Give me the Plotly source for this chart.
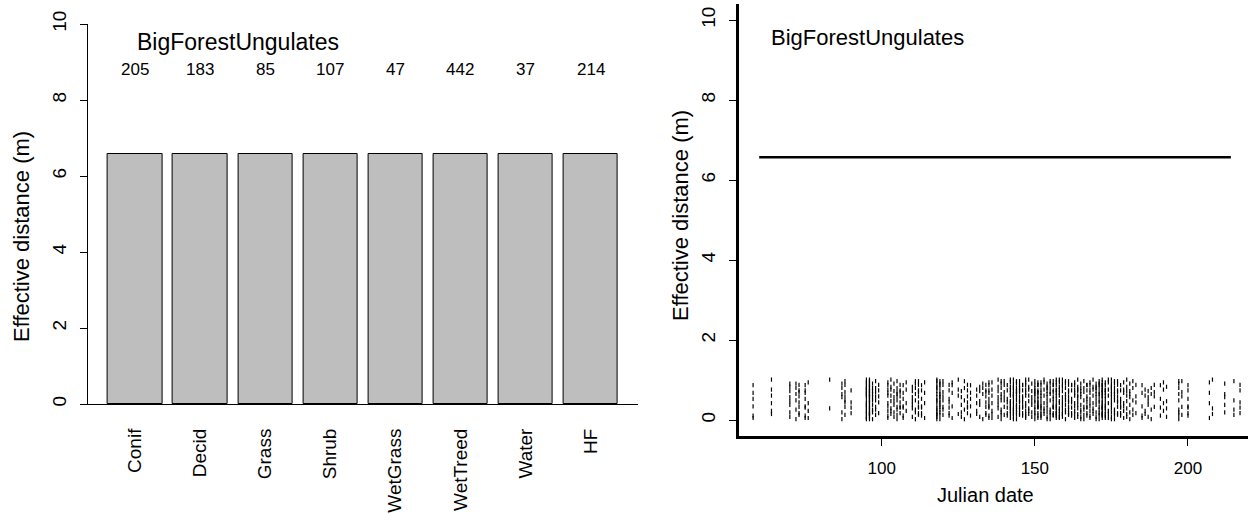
import plotly.graph_objects as go

W, H = 1248, 514

# ---------------- data ----------------
habitats = ["Conif", "Decid", "Grass", "Shrub", "WetGrass", "WetTreed", "Water", "HF"]
eff_dist = [6.57, 6.57, 6.57, 6.57, 6.57, 6.57, 6.57, 6.57]
n_obs = [205, 183, 85, 107, 47, 442, 37, 214]
title_text = "BigForestUngulates"

line_days = [60, 214]
line_dist = [6.57, 6.57]

rug_days = [58, 64, 70, 72, 73, 75, 76, 83, 87, 88, 90,
            95, 96, 97, 98, 99, 102, 103, 104, 105, 106, 107, 108,
            110, 111, 112, 113, 114, 118, 119, 120, 122, 123,
            125, 126, 127, 128, 129, 131, 132, 133, 134, 135, 136,
            138, 139, 140, 141, 142, 143, 144, 145, 146, 147, 148, 149,
            150, 151, 152, 153, 154, 155, 156, 157, 158, 159,
            160, 161, 162, 163, 164, 165, 166, 167, 168, 169,
            170, 171, 172, 173, 174, 175, 176, 177, 178, 179,
            180, 181, 182, 183, 185, 186, 187, 188, 189, 191, 192, 193,
            197, 198, 200, 207, 208, 212, 215, 217]
rug_counts = [6, 6, 8, 6, 8, 8, 4, 2, 6, 8, 4,
              22, 26, 10, 8, 5, 10, 8, 7, 10, 8, 7, 4,
              7, 8, 10, 7, 4, 18, 16, 8, 7, 5,
              4, 5, 5, 7, 5, 5, 5, 4, 8, 10, 7,
              8, 10, 7, 7, 13, 16, 14, 12, 10, 12, 8, 7,
              14, 16, 13, 8, 12, 10, 14, 16, 13, 11,
              10, 11, 8, 10, 11, 10, 8, 10, 10, 8,
              11, 14, 24, 14, 8, 13, 11, 10, 8, 7,
              8, 7, 5, 4, 5, 4, 5, 4, 4, 4, 4, 4,
              9, 5, 7, 4, 3, 5, 4, 5]
rug_levels = [0.53, 0.11, 0.87, 0.34, 0.68, 0.05, 0.94, 0.42, 0.23, 0.76,
              0.61, 0.15, 1.01, 0.29, 0.83, 0.47, 0.08, 0.72, 0.38, 0.57,
              0.19, 0.91, 0.65, 0.02, 0.80, 0.26, 0.49, 0.97, 0.13, 0.70,
              0.33, 0.59, 0.88, 0.44, 0.17, 0.74, 0.31]

# ---------------- build ----------------
centers = [0.7 + 1.2 * i for i in range(len(habitats))]

rx, ry = [], []
L = len(rug_levels)
for i, (d, c) in enumerate(zip(rug_days, rug_counts)):
    for k in range(c):
        rx.append(d)
        ry.append(rug_levels[(i * 7 + k) % L])

FONT = "Liberation Sans, Arial, sans-serif"
fig = go.Figure()

fig.add_trace(go.Bar(x=centers, y=eff_dist, width=1.0,
                     marker=dict(color="#BEBEBE", line=dict(color="black", width=1)),
                     xaxis="x", yaxis="y", showlegend=False))

fig.add_trace(go.Scatter(x=rx, y=ry, mode="markers",
                         marker=dict(symbol="line-ns", size=3, color="black",
                                     line=dict(color="black", width=1.2)),
                         xaxis="x2", yaxis="y2", showlegend=False))

fig.add_trace(go.Scatter(x=line_days, y=line_dist, mode="lines",
                         line=dict(color="black", width=2.5),
                         xaxis="x2", yaxis="y2", showlegend=False))

def px2x(p):
    return p / W

def px2y(p):
    return 1 - p / H

ytickfont = dict(family=FONT, size=19, color="black")
xtickfont = dict(family=FONT, size=19, color="black")
numfont = dict(family=FONT, size=17, color="black")

fig.update_layout(
    width=W, height=H, margin=dict(l=0, r=0, t=0, b=0),
    paper_bgcolor="white", plot_bgcolor="white",
    font=dict(family=FONT, color="black"),
    bargap=0,
    xaxis=dict(domain=[px2x(87.6), px2x(638)], range=[-0.176, 9.976],
               tickvals=centers, ticktext=habitats, tickangle=-90,
               ticks="", showline=True, linecolor="black", linewidth=1,
               showgrid=False, zeroline=False, tickfont=xtickfont,
               ticklabelstandoff=16, automargin=False),
    yaxis=dict(domain=[px2y(404), px2y(24)], range=[0, 10],
               tickvals=[0, 2, 4, 6, 8, 10], tickangle=-90,
               ticks="outside", ticklen=7, tickcolor="black", tickwidth=1,
               showline=True, linecolor="black", linewidth=1,
               showgrid=False, zeroline=False, tickfont=ytickfont,
               ticklabelstandoff=6, automargin=False),
    xaxis2=dict(domain=[px2x(738.7), 1.0], range=[53.3, 219.6], anchor="y2",
                tickvals=[100, 150, 200],
                ticks="outside", ticklen=7, tickcolor="black", tickwidth=1,
                showline=True, linecolor="black", linewidth=2.5,
                showgrid=False, zeroline=False, tickfont=numfont,
                ticklabelstandoff=8, automargin=False),
    yaxis2=dict(domain=[px2y(436), px2y(4)], range=[-0.4, 10.4], anchor="x2",
                tickvals=[0, 2, 4, 6, 8, 10], tickangle=-90,
                ticks="outside", ticklen=7, tickcolor="black", tickwidth=1,
                showline=True, linecolor="black", linewidth=2.5,
                showgrid=False, zeroline=False, tickfont=ytickfont,
                ticklabelstandoff=6, automargin=False),
)

ann = []
ann.append(dict(x=2.6, y=9.53, xref="x", yref="y", text=title_text, showarrow=False,
                xanchor="center", yanchor="middle",
                font=dict(family=FONT, size=23, color="black")))
for c, n in zip(centers, n_obs):
    ann.append(dict(x=c, y=8.79, xref="x", yref="y", text=str(n), showarrow=False,
                    xanchor="center", yanchor="middle", font=numfont))
ann.append(dict(x=95.5, y=9.57, xref="x2", yref="y2", text=title_text, showarrow=False,
                xanchor="center", yanchor="middle",
                font=dict(family=FONT, size=22, color="black")))
ann.append(dict(x=px2x(21), y=px2y(237), xref="paper", yref="paper",
                text="Effective distance (m)", textangle=-90, showarrow=False,
                xanchor="center", yanchor="middle",
                font=dict(family=FONT, size=22, color="black")))
ann.append(dict(x=px2x(680), y=px2y(215), xref="paper", yref="paper",
                text="Effective distance (m)", textangle=-90, showarrow=False,
                xanchor="center", yanchor="middle",
                font=dict(family=FONT, size=22, color="black")))
ann.append(dict(x=px2x(985), y=px2y(495), xref="paper", yref="paper",
                text="Julian date", showarrow=False,
                xanchor="center", yanchor="middle",
                font=dict(family=FONT, size=20, color="black")))
fig.update_layout(annotations=ann)

fig.write_html("out.html")
